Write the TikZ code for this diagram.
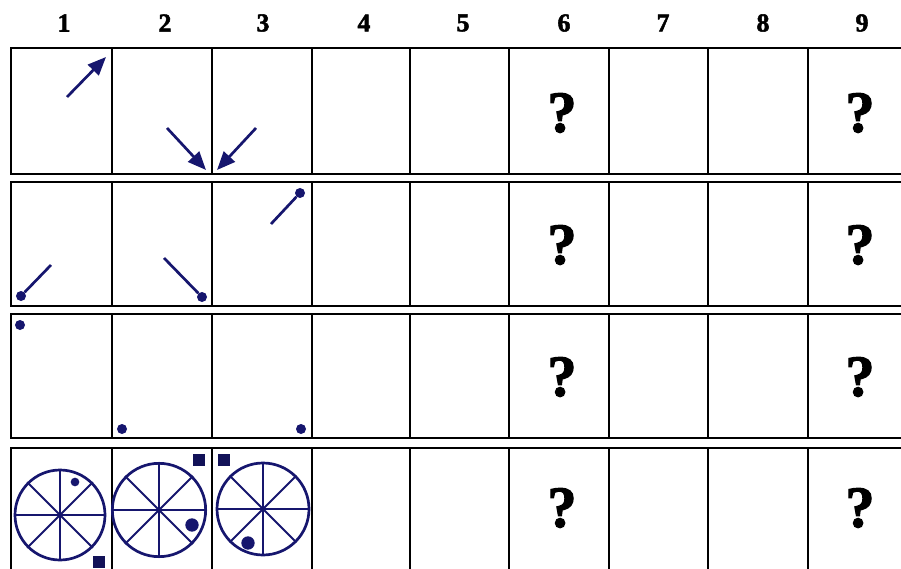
\documentclass[tikz,border=0pt]{standalone}
\usepackage{fontspec}
\setmainfont{Liberation Serif}[BoldFont={Liberation Serif Bold}, BoldFeatures={FakeBold=2}]
\usetikzlibrary{arrows.meta}
\definecolor{ink}{RGB}{22,22,110}

\begin{document}
\begin{tikzpicture}[x=0.03cm, y=-0.03cm,
  grid/.style={draw=black, line width=2.5pt},
  hdr/.style={font=\fontsize{22}{24}\selectfont\bfseries, inner sep=0pt},
  qm/.style={font=\fontsize{50}{52}\selectfont\bfseries, inner sep=0pt},
  arr/.style={-{Triangle[length=0.55cm, width=0.45cm]}, line width=2.3pt, color=ink},
  ln/.style={line width=2.3pt, color=ink},
  dot/.style={circle, fill=ink, inner sep=0pt, minimum size=0.3cm},
  wheel/.style={circle, draw=ink, line width=2.3pt, inner sep=0pt, minimum size=2.7cm},
  sq/.style={rectangle, fill=ink!80!black, inner sep=0pt, minimum size=0.36cm}
]
  \useasboundingbox (0,0) rectangle (901,569);
  \clip (0,0) rectangle (901,569);
  % grid rows
  \foreach \t/\b in {48/174,182/306,314/438,448/610}
    \foreach \l/\r in {11/112,112/212,212/312,312/410,410/509,509/609,609/708,708/808,808/940}
      \draw[grid] (\l,\t) rectangle (\r,\b);
  % column numbers
  \foreach \n/\x in {1/64,2/165,3/263,4/364,5/463,6/564,7/663,8/763,9/862}
    \node[hdr] (h\n) at (\x,23) {\n};
  % question marks
  \foreach \r/\y in {1/113,2/245,3/377,4/508} {
    \node[qm] (q\r a) at (562,\y) {?};
    \node[qm] (q\r b) at (860,\y) {?};
  }
  % row 1: arrows
  \coordinate (a1s) at (67,97);  \coordinate (a1e) at (106,57);
  \coordinate (a2s) at (167,128); \coordinate (a2e) at (206,170);
  \coordinate (a3s) at (256,128); \coordinate (a3e) at (217,170);
  \draw[arr] (a1s) -- (a1e);
  \draw[arr] (a2s) -- (a2e);
  \draw[arr] (a3s) -- (a3e);
  % row 2: sticks with dots
  \node[dot] (d21) at (21,296) {};
  \node[dot] (d22) at (202,297) {};
  \node[dot] (d23) at (300,193) {};
  \coordinate (t21) at (51,265);
  \coordinate (t22) at (164,258);
  \coordinate (t23) at (271,224);
  \draw[ln] (t21) -- (d21);
  \draw[ln] (t22) -- (d22);
  \draw[ln] (t23) -- (d23);
  % row 3: dots
  \node[dot] (d31) at (20,325) {};
  \node[dot] (d32) at (122,429) {};
  \node[dot] (d33) at (301,429) {};
  % row 4: wheels
  \node[wheel] (w1) at (60,515) {};
  \node[wheel, minimum size=2.8cm] (w2) at (159,510) {};
  \node[wheel, minimum size=2.76cm] (w3) at (263,509) {};
  \foreach \w in {w1,w2,w3}
    \foreach \a/\b in {0/180,45/225,90/270,135/315}
      \draw[ln, line width=1.8pt] (\w.\a) -- (\w.\b);
  \node[dot, minimum size=0.26cm] (p1) at (75,482) {};
  \node[dot, minimum size=0.4cm] (p2) at (192,525) {};
  \node[dot, minimum size=0.4cm] (p3) at (248,543) {};
  \node[sq] (s1) at (99,562) {};
  \node[sq] (s2) at (199,460) {};
  \node[sq] (s3) at (224,460) {};
\end{tikzpicture}
\end{document}
